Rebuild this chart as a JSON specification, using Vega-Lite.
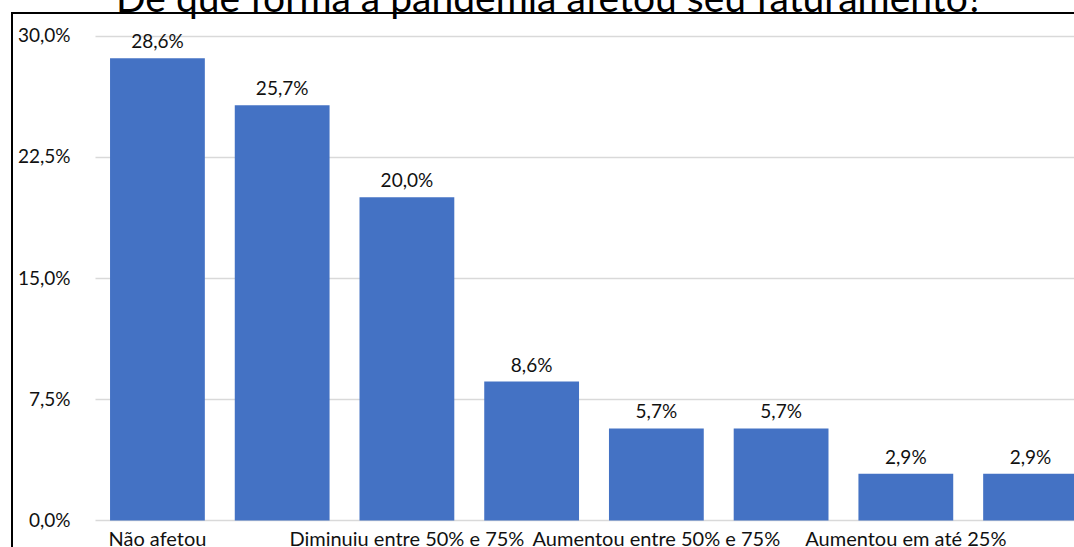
{
  "$schema": "https://vega.github.io/schema/vega-lite/v6.json",
  "width": 1164,
  "height": 550,
  "autosize": {"type": "none"},
  "padding": {"left": 12, "top": 13, "right": 0, "bottom": 0},
  "background": "white",
  "title": {
    "text": "De que forma a pandemia afetou seu faturamento?",
    "font": "Lato",
    "fontSize": 39,
    "fontWeight": "normal",
    "color": "#000000",
    "anchor": "middle",
    "frame": "group",
    "baseline": "alphabetic",
    "offset": -37.5,
    "dx": -44
  },
  "data": {
    "values": [
      {"cat": "Não afetou", "v": 0.286},
      {"cat": "Diminuiu em até 25%", "v": 0.257},
      {"cat": "Diminuiu entre 50% e 75%", "v": 0.200},
      {"cat": "Diminuiu entre 25% e 50%", "v": 0.086},
      {"cat": "Aumentou entre 50% e 75%", "v": 0.057},
      {"cat": "Aumentou entre 25% e 50%", "v": 0.057},
      {"cat": "Aumentou em até 25%", "v": 0.029},
      {"cat": "Diminuiu mais de 75%", "v": 0.029}
    ]
  },
  "encoding": {
    "x": {
      "field": "cat",
      "type": "nominal",
      "sort": null,
      "scale": {"paddingInner": 0.24, "paddingOuter": 0.786},
      "axis": {
        "title": null,
        "orient": "bottom",
        "offset": -42.5,
        "labelPadding": 9,
        "ticks": false,
        "domain": false,
        "labelAngle": 0,
        "labelFont": "Lato",
        "labelFontSize": 20,
        "labelColor": "#111111",
        "labelLimit": 500,
        "labelOverlap": false,
        "labelExpr": "(datum.value == 'Não afetou' || datum.value == 'Diminuiu entre 50% e 75%' || datum.value == 'Aumentou entre 50% e 75%' || datum.value == 'Aumentou em até 25%') ? datum.label : ''"
      }
    },
    "y": {
      "field": "v",
      "type": "quantitative",
      "scale": {"domain": [-0.0263, 0.31405], "nice": false, "zero": false},
      "axis": {
        "title": null,
        "orient": "left",
        "offset": -83,
        "values": [0, 0.075, 0.15, 0.225, 0.3],
        "format": ".1%",
        "labelPadding": 25,
        "ticks": false,
        "domain": false,
        "grid": true,
        "gridColor": "#d9d9d9",
        "gridWidth": 1.5,
        "gridDash": [0, 83, 3000],
        "labelFont": "Lato",
        "labelFontSize": 19,
        "labelColor": "#111111",
        "labelBaseline": "middle"
      }
    }
  },
  "layer": [
    {"mark": {"type": "bar", "color": "#4472C4"}},
    {
      "mark": {"type": "text", "baseline": "alphabetic", "dy": -10, "font": "Lato", "fontSize": 19, "color": "#111111"},
      "encoding": {"text": {"field": "v", "type": "quantitative", "format": ".1%"}}
    }
  ],
  "config": {
    "view": {"stroke": "#000000", "strokeWidth": 2},
    "locale": {"number": {"decimal": ",", "thousands": ".", "grouping": [3], "currency": ["R$", ""]}}
  }
}
